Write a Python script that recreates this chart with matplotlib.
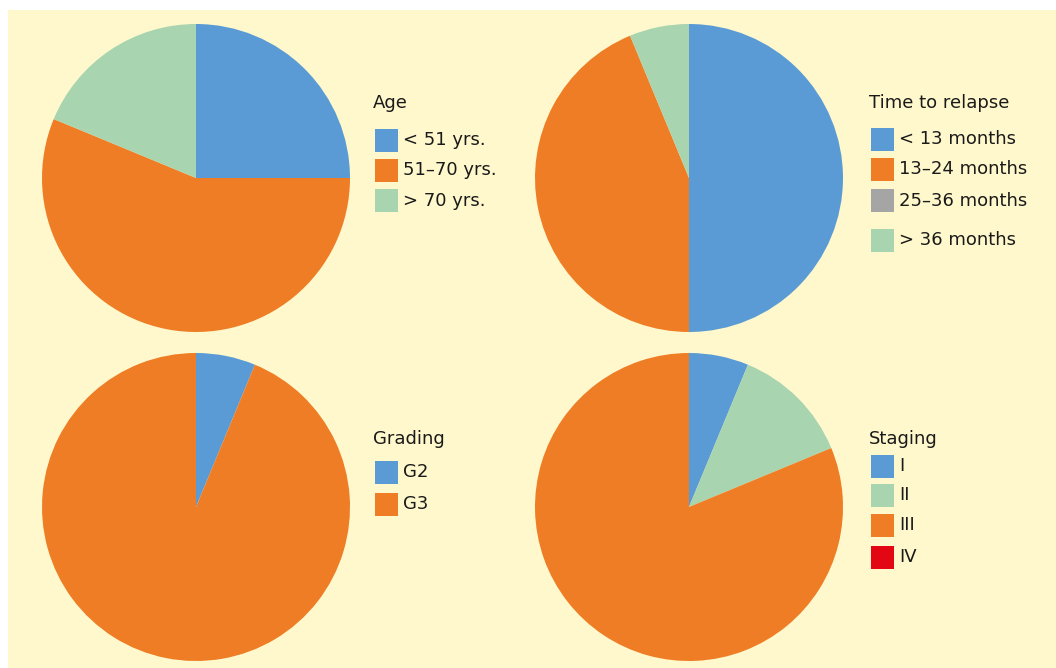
#!/usr/bin/env python3
"""
Patient characteristics pies: age, time to relapse, grading, staging
"""

import matplotlib
matplotlib.use('Agg')
import matplotlib.pyplot as plt
from matplotlib.patches import Rectangle

# Data (number of patients, n = 16)
age_labels = ['< 51 yrs.', '51\u201370 yrs.', '> 70 yrs.']
age_values = [4, 9, 3]

relapse_labels = ['< 13 months', '13\u201324 months', '25\u201336 months', '> 36 months']
relapse_values = [8, 7, 0, 1]

grading_labels = ['G2', 'G3']
grading_values = [1, 15]

staging_labels = ['I', 'II', 'III', 'IV']
staging_values = [1, 2, 13, 0]

# Colours
BLUE = '#5b9bd5'
ORANGE = '#ee7d25'
GREEN = '#a8d4b0'
GREY = '#a5a5a5'
RED = '#e30613'
BG = '#fff8cc'

age_colors = [BLUE, ORANGE, GREEN]
relapse_colors = [BLUE, ORANGE, GREY, GREEN]
grading_colors = [BLUE, ORANGE]
staging_colors = [BLUE, GREEN, ORANGE, RED]

W, H = 1056, 668
plt.rcParams['font.family'] = ['DejaVu Sans']

fig = plt.figure(figsize=(W / 100, H / 100), dpi=100)
fig.patch.set_facecolor('white')

# yellow panel, behind everything
fig.patches.append(Rectangle((8 / W, 0), 1 - 8 / W, 1 - 10 / H,
                             transform=fig.transFigure, facecolor=BG,
                             edgecolor='none', zorder=-10))


def draw_pie(cx, cy, r, values, colors):
    """Pie centred at pixel (cx, cy) from top-left, radius r in pixels"""
    ax = fig.add_axes([(cx - r) / W, 1 - (cy + r) / H, 2 * r / W, 2 * r / H])
    ax.pie(values, colors=colors, startangle=90, counterclock=False,
           wedgeprops=dict(linewidth=0))
    ax.set_xlim(-1, 1)
    ax.set_ylim(-1, 1)
    ax.set_aspect('equal')
    ax.axis('off')
    return ax


def draw_legend(x, title_y, title, labels, colors, rows_y):
    """Legend with title and square patches, positions in pixels from top-left"""
    fig.text(x / W, 1 - title_y / H, title, fontsize=13, va='center',
             ha='left', color='#1a1a1a')
    for lab, col, y in zip(labels, colors, rows_y):
        fig.patches.append(Rectangle(((x + 2) / W, 1 - (y + 11.5) / H),
                                     23 / W, 23 / H,
                                     transform=fig.transFigure,
                                     facecolor=col, edgecolor='none'))
        fig.text((x + 30) / W, 1 - y / H, lab, fontsize=13, va='center',
                 ha='left', color='#1a1a1a')


draw_pie(196, 178, 154, age_values, age_colors)
draw_pie(689, 178, 154, relapse_values, relapse_colors)
draw_pie(196, 507, 154, grading_values, grading_colors)
draw_pie(689, 507, 154, staging_values, staging_colors)

draw_legend(373, 103, 'Age', age_labels, age_colors, [140, 170, 201])
draw_legend(869, 103, 'Time to relapse', relapse_labels, relapse_colors,
            [139, 169, 201, 240])
draw_legend(373, 439, 'Grading', grading_labels, grading_colors, [472, 504])
draw_legend(869, 439, 'Staging', staging_labels, staging_colors,
            [466, 495, 525, 557])

fig.savefig('out.png', dpi=100, facecolor=fig.get_facecolor())
